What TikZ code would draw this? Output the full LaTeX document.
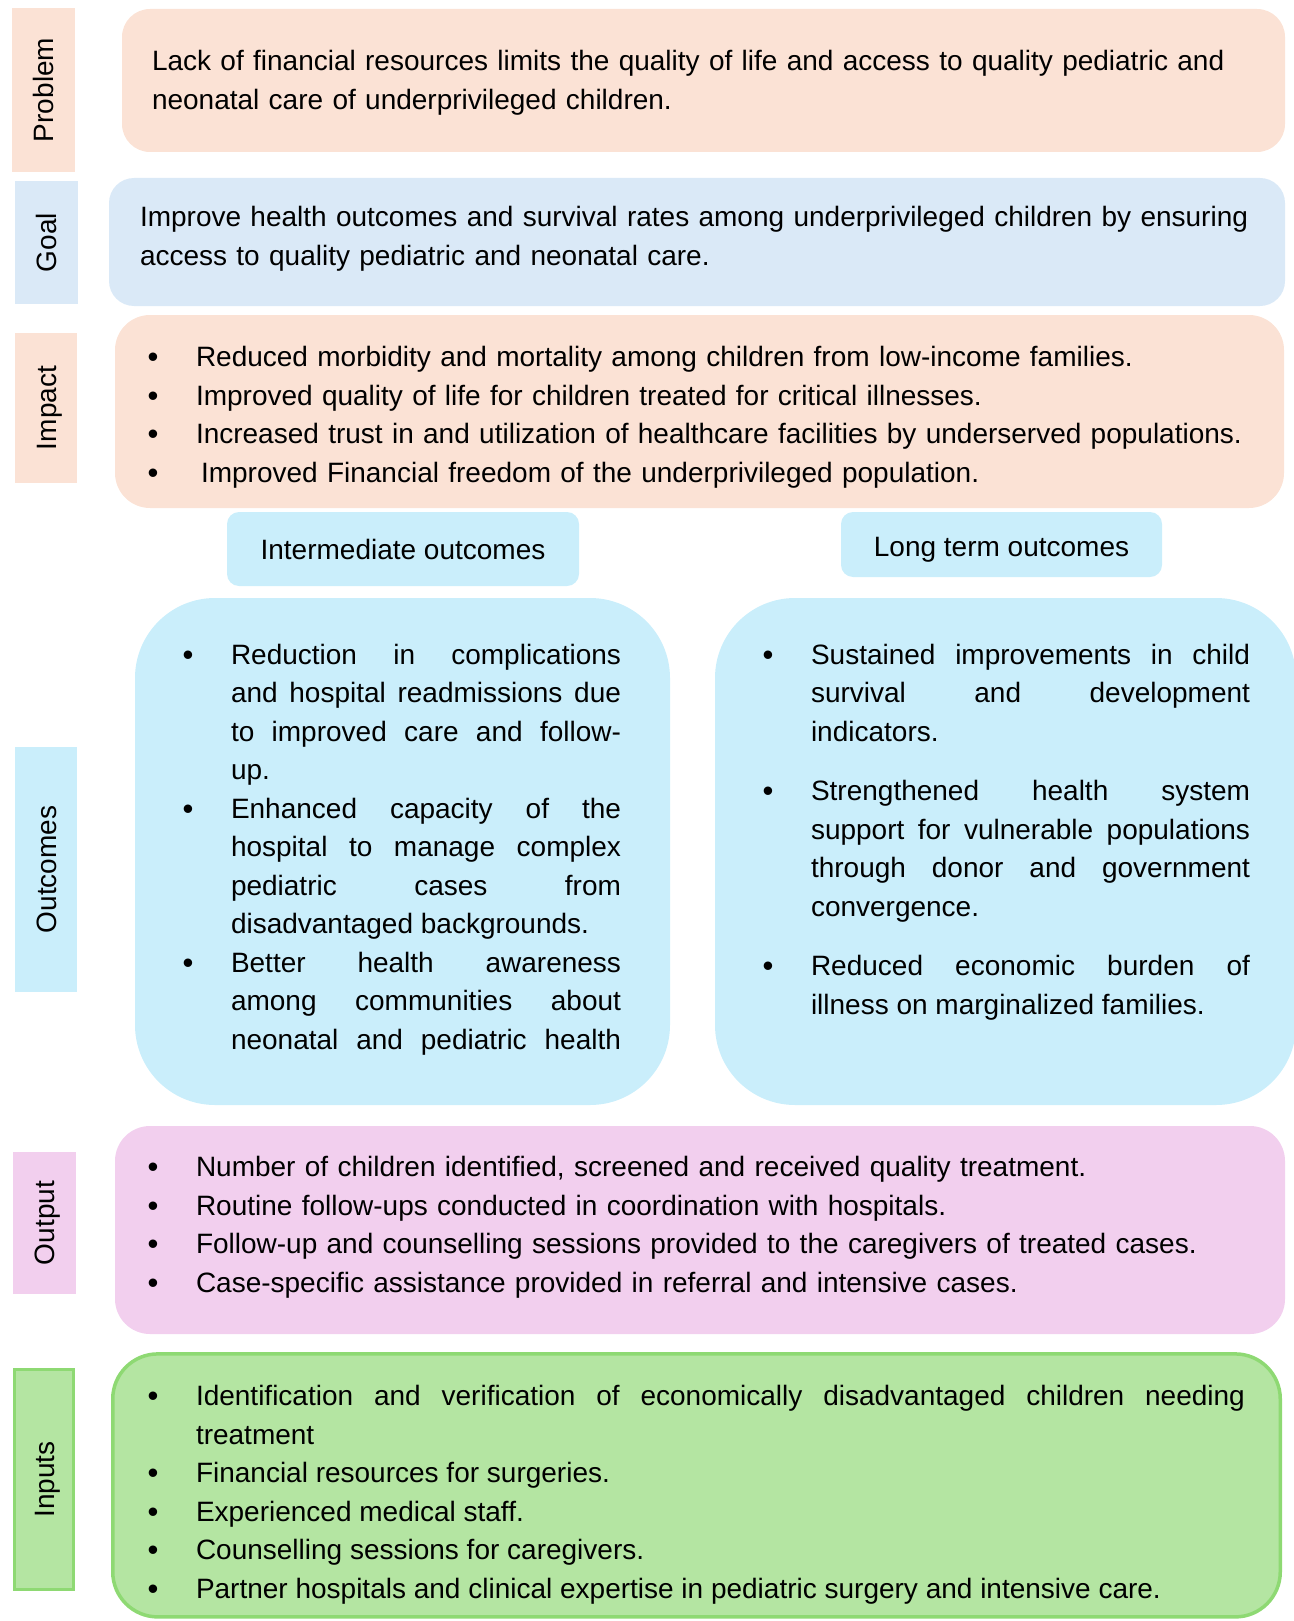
\documentclass[tikz,border=0pt]{standalone}
\usepackage{fontspec}
\setmainfont{Liberation Sans}
\definecolor{peach}{HTML}{FBE2D5}
\definecolor{goalblue}{HTML}{DAE9F7}
\definecolor{outblue}{HTML}{CAEEFB}
\definecolor{pinkc}{HTML}{F2CFEE}
\definecolor{greenf}{HTML}{B4E5A2}
\definecolor{greenb}{HTML}{8ED973}
\newcommand\fsz{\fontsize{28}{38.5}\selectfont}
\newcommand\bulletglyph{\raisebox{-1pt}{\fontsize{31}{0}\selectfont\textbullet}}
\newcommand\bulfirst{\noindent\llap{\makebox[0pt]{\bulletglyph}\hspace{43pt}}}
\newcommand\bul{\par\bulfirst}
\newcommand\bulsp{\par\vspace{21pt}\bulfirst}
\tolerance=10000
\hbadness=10000
\hyphenpenalty=10000
\begin{document}
\begin{tikzpicture}[x=1pt,y=-1pt,
  every node/.style={inner sep=0pt, outer sep=0pt},
  labrect/.style={rectangle},
  labtxt/.style={rotate=90, font=\fsz, text height=20pt, text depth=0pt},
  box/.style={rectangle},
  txt/.style={font=\fsz, anchor=base west},
  subbox/.style={rectangle, fill=outblue, rounded corners=12pt, font=\fsz, text height=20pt, text depth=0pt}
]
\useasboundingbox (0,0) rectangle (1293,1621);

% ---- side labels
\node[labrect, fill=peach, minimum width=63pt, minimum height=164pt] (problab) at (43.5,90) {};
\node[labtxt] (problabt) at (problab.center) {Problem};
\node[labrect, fill=goalblue, minimum width=63pt, minimum height=123pt] (goallab) at (46.5,242.5) {};
\node[labtxt] (goallabt) at (goallab.center) {Goal};
\node[labrect, fill=peach, minimum width=62pt, minimum height=150pt] (implab) at (46,408) {};
\node[labtxt] (implabt) at (implab.center) {Impact};
\node[labrect, fill=outblue, minimum width=62pt, minimum height=245pt] (outclab) at (46,869.5) {};
\node[labtxt] (outclabt) at (outclab.center) {Outcomes};
\node[labrect, fill=pinkc, minimum width=63pt, minimum height=142pt] (outplab) at (44.5,1223) {};
\node[labtxt] (outplabt) at (outplab.center) {Output};
\node[labrect, fill=greenf, draw=greenb, line width=3.5pt, minimum width=59pt, minimum height=220pt] (inplab) at (44,1479.5) {};
\node[labtxt] (inplabt) at (inplab.center) {Inputs};

% ---- main boxes
\node[box, fill=peach, rounded corners=28pt, minimum width=1163pt, minimum height=143pt] (probbox) at (703.5,80.5) {};
\node[box, fill=goalblue, rounded corners=25pt, minimum width=1176pt, minimum height=128pt] (goalbox) at (697,242) {};
\node[box, fill=peach, rounded corners=35pt, minimum width=1169pt, minimum height=193pt] (impbox) at (699.5,411.5) {};
\node[subbox, minimum width=352pt, minimum height=74pt] (interlab) at (403,549) {Intermediate outcomes};
\node[subbox, minimum width=321pt, minimum height=65pt] (longlab) at (1001.5,544.5) {\raisebox{-2pt}{Long term outcomes}};
\node[box, fill=outblue, rounded corners=80pt, minimum width=535pt, minimum height=507pt] (interbox) at (402.5,851.5) {};
\node[box, fill=outblue, rounded corners=80pt, minimum width=581pt, minimum height=507pt] (longbox) at (1005.5,851.5) {};
\node[box, fill=pinkc, rounded corners=35pt, minimum width=1170pt, minimum height=208pt] (outpbox) at (700,1230) {};
\node[box, fill=greenf, draw=greenb, line width=3.5pt, rounded corners=45pt, minimum width=1167.5pt, minimum height=263pt] (inpbox) at (696.5,1485.4) {};

% ---- texts
\node[txt, text width=1120pt, align=left] (probtxt) at (152,71)
 {Lack of financial resources limits the quality of life and access to quality pediatric and\\neonatal care of underprivileged children.};
\node[txt, text width=1135pt, align=left] (goaltxt) at (140,227)
 {Improve health outcomes and survival rates among underprivileged children by ensuring\\access to quality pediatric and neonatal care.};
\node[txt, text width=1080pt, align=left] (imptxt) at (196,366.7)
 {\bulfirst Reduced morbidity and mortality among children from low-income families.
  \bul Improved quality of life for children treated for critical illnesses.
  \bul Increased trust in and utilization of healthcare facilities by underserved populations.
  \bul \hspace*{5pt}Improved Financial freedom of the underprivileged population.};
\node[txt, text width=390pt, align=justify] (intertxt) at (231,664)
 {\bulfirst Reduction in complications\linebreak and hospital readmissions due\linebreak to improved care and follow-\linebreak up.
  \bul Enhanced capacity of the\linebreak hospital to manage complex\linebreak pediatric cases from\linebreak disadvantaged backgrounds.
  \bul Better health awareness\linebreak among communities about\linebreak neonatal and pediatric health\parfillskip=0pt\par};
\node[txt, text width=439pt, align=justify] (longtxt) at (811,664)
 {\bulfirst Sustained improvements in child\linebreak survival and development\linebreak indicators.
  \bulsp Strengthened health system\linebreak support for vulnerable populations\linebreak through donor and government\linebreak convergence.
  \bulsp Reduced economic burden of\linebreak illness on marginalized families.};
\node[txt, text width=1080pt, align=left] (outptxt) at (196,1176.7)
 {\bulfirst Number of children identified, screened and received quality treatment.
  \bul Routine follow-ups conducted in coordination with hospitals.
  \bul Follow-up and counselling sessions provided to the caregivers of treated cases.
  \bul Case-specific assistance provided in referral and intensive cases.};
\node[txt, text width=1049pt, align=justify] (inptxt) at (196,1405.7)
 {\bulfirst Identification and verification of economically disadvantaged children needing\linebreak treatment
  \bul Financial resources for surgeries.
  \bul Experienced medical staff.
  \bul Counselling sessions for caregivers.
  \bul Partner hospitals and clinical expertise in pediatric surgery and intensive care.};
\end{tikzpicture}
\end{document}
